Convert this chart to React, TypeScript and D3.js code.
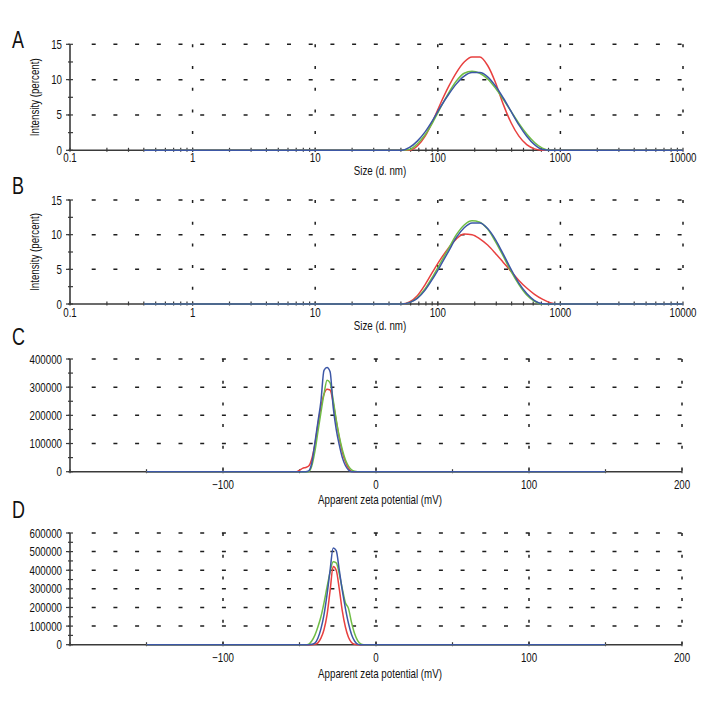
import React from 'react';
import * as d3 from 'd3';

// ---------- DATA ----------
const sizeBins = [0.4, 50.75, 58.77, 68.06, 78.82, 91.28, 105.7, 122.4, 141.8, 164.2, 190.1, 220.2, 255.0, 295.3, 342.0, 396.1, 458.7, 531.2, 615.1, 712.4, 825.0, 955.4, 1106, 10000];

const aRed = [0, 0, 0, 0.6, 2.0, 4.2, 6.7, 9.0, 11.0, 12.5, 13.2, 13.2, 12.0, 9.6, 6.5, 3.9, 2.0, 0.8, 0.2, 0, 0, 0, 0, 0];
const aGreen = [0, 0, 0.1, 0.9, 2.2, 4.0, 6.1, 8.1, 9.8, 10.9, 11.2, 10.9, 10.1, 8.8, 7.2, 5.5, 3.8, 2.3, 1.1, 0.3, 0, 0, 0, 0];
const aBlue = [0, 0, 0.4, 1.3, 2.6, 4.3, 6.2, 7.9, 9.4, 10.5, 11.0, 11.0, 10.4, 9.1, 7.4, 5.5, 3.6, 2.0, 0.8, 0.1, 0, 0, 0, 0];

const bRed = [0, 0, 0.3, 1.2, 2.8, 4.7, 6.5, 8.1, 9.4, 10.1, 10.0, 9.4, 8.5, 7.3, 6.0, 4.7, 3.4, 2.3, 1.4, 0.7, 0.2, 0, 0, 0];
const bGreen = [0, 0, 0.2, 0.9, 2.2, 4.0, 6.0, 8.0, 10.0, 11.4, 12.0, 11.8, 10.8, 9.0, 6.9, 4.7, 2.8, 1.3, 0.4, 0, 0, 0, 0, 0];
const bBlue = [0, 0, 0.2, 0.8, 2.0, 3.7, 5.6, 7.6, 9.6, 11.0, 11.7, 11.7, 10.9, 9.3, 7.2, 5.0, 3.0, 1.5, 0.5, 0.05, 0, 0, 0, 0];

const zetaBins = [-150, -52, -50, -48, -46, -44, -42, -40, -38, -36, -34, -32, -30, -28, -26, -24, -22, -20, -18, -16, -14, -12, -10, -8, 150];

const cRed = [0, 0, 5000, 12000, 15000, 20000, 45000, 95000, 165000, 230000, 275000, 293000, 290000, 245000, 180000, 120000, 70000, 35000, 12000, 2000, 0, 0, 0, 0, 0];
const cGreen = [0, 0, 0, 0, 0, 0, 20000, 70000, 140000, 210000, 275000, 325000, 315000, 255000, 185000, 125000, 78000, 42000, 20000, 7000, 1500, 0, 0, 0, 0];
const cBlue = [0, 0, 0, 0, 0, 3000, 30000, 100000, 175000, 250000, 360000, 370000, 355000, 230000, 150000, 95000, 50000, 22000, 6000, 0, 0, 0, 0, 0, 0];

const dRed = [0, 0, 0, 0, 0, 0, 0, 2000, 10000, 35000, 80000, 160000, 290000, 420000, 400000, 300000, 180000, 95000, 40000, 12000, 2000, 0, 0, 0, 0];
const dGreen = [0, 0, 0, 0, 0, 3000, 20000, 50000, 95000, 150000, 225000, 310000, 390000, 445000, 440000, 380000, 300000, 225000, 195000, 120000, 60000, 22000, 5000, 0, 0];
const dBlue = [0, 0, 0, 0, 0, 0, 2000, 8000, 35000, 85000, 160000, 270000, 400000, 520000, 505000, 400000, 290000, 195000, 115000, 55000, 20000, 3000, 0, 0, 0];

const logTicks = [0.1, 1, 10, 100, 1000, 10000];
const logTickLabels = ['0.1', '1', '10', '100', '1000', '10000'];
const zetaTicks = [-200, -150, -100, -50, 0, 50, 100, 150, 200];
const zetaLabeled = [-100, 0, 100, 200];
const zetaTickLabels = ['\u2212100', '0', '100', '200'];
const intensityTicks = [0, 5, 10, 15];
const countTicksC = [0, 100000, 200000, 300000, 400000];
const countTicksD = [0, 100000, 200000, 300000, 400000, 500000, 600000];

const seriesNames = ['red', 'green', 'blue'];
const COLORS: Record<string, string> = { red: '#e8403f', green: '#70bd45', blue: '#3c57a6' };

// ---------- LAYOUT ----------
const FONT = "'Liberation Sans', Arial, sans-serif";
const SX = 0.78;
const X0 = 70;
const X1 = 683;
const GRID = '#1e1e1e';
const AXIS = '#3a3a3a';

function T(props: { x: number; y: number; size: number; anchor?: string; rotate?: number; dy?: string; children: React.ReactNode }) {
  const rot = props.rotate ? ` rotate(${props.rotate})` : '';
  return (
    <text
      transform={`translate(${props.x}, ${props.y})${rot} scale(${SX}, 1)`}
      textAnchor={props.anchor || 'start'}
      dy={props.dy}
      fontSize={props.size}
      fontFamily={FONT}
      fill="#111"
    >
      {props.children}
    </text>
  );
}

type PanelProps = {
  letter: string;
  letterY: number;
  y0: number;
  yTop: number;
  log: boolean;
  yTicks: number[];
  yMinorStep: number;
  xs: number[];
  ys: number[][];
  yTitle?: string;
  xTitle: string;
  tickLabelY: number;
  xTitleY: number;
};

function Panel(p: PanelProps) {
  const yMax = p.yTicks[p.yTicks.length - 1];
  const y = d3.scaleLinear().domain([0, yMax]).range([p.y0, p.yTop]);
  const xLog = d3.scaleLog().domain([0.1, 10000]).range([X0, X1]);
  const xLin = d3.scaleLinear().domain([-200, 200]).range([X0, X1 - 1]);
  const x = (v: number) => (p.log ? xLog(v) : xLin(v));

  const majorX = p.log ? logTicks : zetaLabeled;
  const gridX = majorX.filter((v) => x(v) > X0 + 1);
  const minorX: number[] = [];
  if (p.log) {
    for (let d = 0.1; d < 10000; d *= 10) {
      for (let k = 1; k <= 10; k++) minorX.push(d * k);
    }
  } else {
    zetaTicks.forEach((v) => minorX.push(v));
  }
  const minorY = d3.range(0, yMax + p.yMinorStep / 2, p.yMinorStep);

  const line = d3
    .line<number>()
    .x((_, i) => x(p.xs[i]))
    .y((v) => y(v))
    .curve(d3.curveMonotoneX);

  const labels = p.log ? logTickLabels : zetaTickLabels;
  const labelVals = p.log ? logTicks : zetaLabeled;
  const xRight = p.log ? X1 : X1 - 1;

  return (
    <g>
      <T x={12} y={p.letterY} size={23}>
        {p.letter}
      </T>
      {p.yTicks
        .filter((v) => v > 0)
        .map((v) => (
          <line
            key={'hg' + v}
            x1={X0 + 21.7}
            x2={xRight + 2}
            y1={y(v)}
            y2={y(v)}
            stroke={GRID}
            strokeWidth={1.5}
            strokeDasharray="4 17.7"
          />
        ))}
      {gridX.map((v) => (
        <line
          key={'vg' + v}
          x1={x(v)}
          x2={x(v)}
          y1={p.yTop}
          y2={p.y0}
          stroke={GRID}
          strokeWidth={1.5}
          strokeDasharray="3 18.7"
        />
      ))}
      <line x1={X0} x2={xRight} y1={p.y0} y2={p.y0} stroke={AXIS} strokeWidth={1.6} />
      {minorX.map((v, i) => (
        <line key={'mx' + i} x1={x(v)} x2={x(v)} y1={p.y0 - 2.5} y2={p.y0 + 1.5} stroke={AXIS} strokeWidth={1.2} />
      ))}
      <line x1={X0} x2={X0} y1={p.y0} y2={p.yTop} stroke={AXIS} strokeWidth={1.6} />
      {minorY.map((v, i) => (
        <line key={'my' + i} x1={X0 - 2} x2={X0 + 3} y1={y(v)} y2={y(v)} stroke={AXIS} strokeWidth={1.2} />
      ))}
      {p.yTicks.map((v) => (
        <line key={'yt' + v} x1={X0 - 4} x2={X0} y1={y(v)} y2={y(v)} stroke={AXIS} strokeWidth={1.2} />
      ))}
      {p.yTicks.map((v) => (
        <T key={'yl' + v} x={X0 - 8} y={y(v)} dy="0.36em" anchor="end" size={12.5}>
          {String(v)}
        </T>
      ))}
      {labelVals.map((v, i) => (
        <T key={'xl' + v} x={x(v)} y={p.tickLabelY} anchor="middle" size={12.5}>
          {labels[i]}
        </T>
      ))}
      <T x={380} y={p.xTitleY} anchor="middle" size={12.5}>
        {p.xTitle}
      </T>
      {p.yTitle && (
        <T x={39} y={(p.y0 + p.yTop) / 2} rotate={-90} anchor="middle" size={12.5}>
          {p.yTitle}
        </T>
      )}
      {p.ys.map((s, i) => (
        <path key={'s' + i} d={line(s) || ''} fill="none" stroke={COLORS[seriesNames[i]]} strokeWidth={1.5} />
      ))}
    </g>
  );
}

export default function App() {
  return (
    <svg
      width={720}
      height={720}
      viewBox="0 0 720 720"
      style={{ position: 'absolute', left: 0, top: 0, background: '#fff' }}
    >
      <rect x={0} y={0} width={720} height={720} fill="#fff" />
      <Panel
        letter="A"
        letterY={48}
        y0={150.3}
        yTop={44.3}
        log
        yTicks={intensityTicks}
        yMinorStep={2.5}
        xs={sizeBins}
        ys={[aRed, aGreen, aBlue]}
        yTitle="Intensity (percent)"
        xTitle="Size (d. nm)"
        tickLabelY={162}
        xTitleY={175}
      />
      <Panel
        letter="B"
        letterY={194}
        y0={304}
        yTop={200}
        log
        yTicks={intensityTicks}
        yMinorStep={2.5}
        xs={sizeBins}
        ys={[bRed, bGreen, bBlue]}
        yTitle="Intensity (percent)"
        xTitle="Size (d. nm)"
        tickLabelY={317}
        xTitleY={330}
      />
      <Panel
        letter="C"
        letterY={345}
        y0={471.7}
        yTop={359}
        log={false}
        yTicks={countTicksC}
        yMinorStep={50000}
        xs={zetaBins}
        ys={[cRed, cGreen, cBlue]}
        xTitle="Apparent zeta potential (mV)"
        tickLabelY={489}
        xTitleY={504}
      />
      <Panel
        letter="D"
        letterY={518}
        y0={644.7}
        yTop={533}
        log={false}
        yTicks={countTicksD}
        yMinorStep={50000}
        xs={zetaBins}
        ys={[dRed, dGreen, dBlue]}
        xTitle="Apparent zeta potential (mV)"
        tickLabelY={662}
        xTitleY={678}
      />
    </svg>
  );
}
